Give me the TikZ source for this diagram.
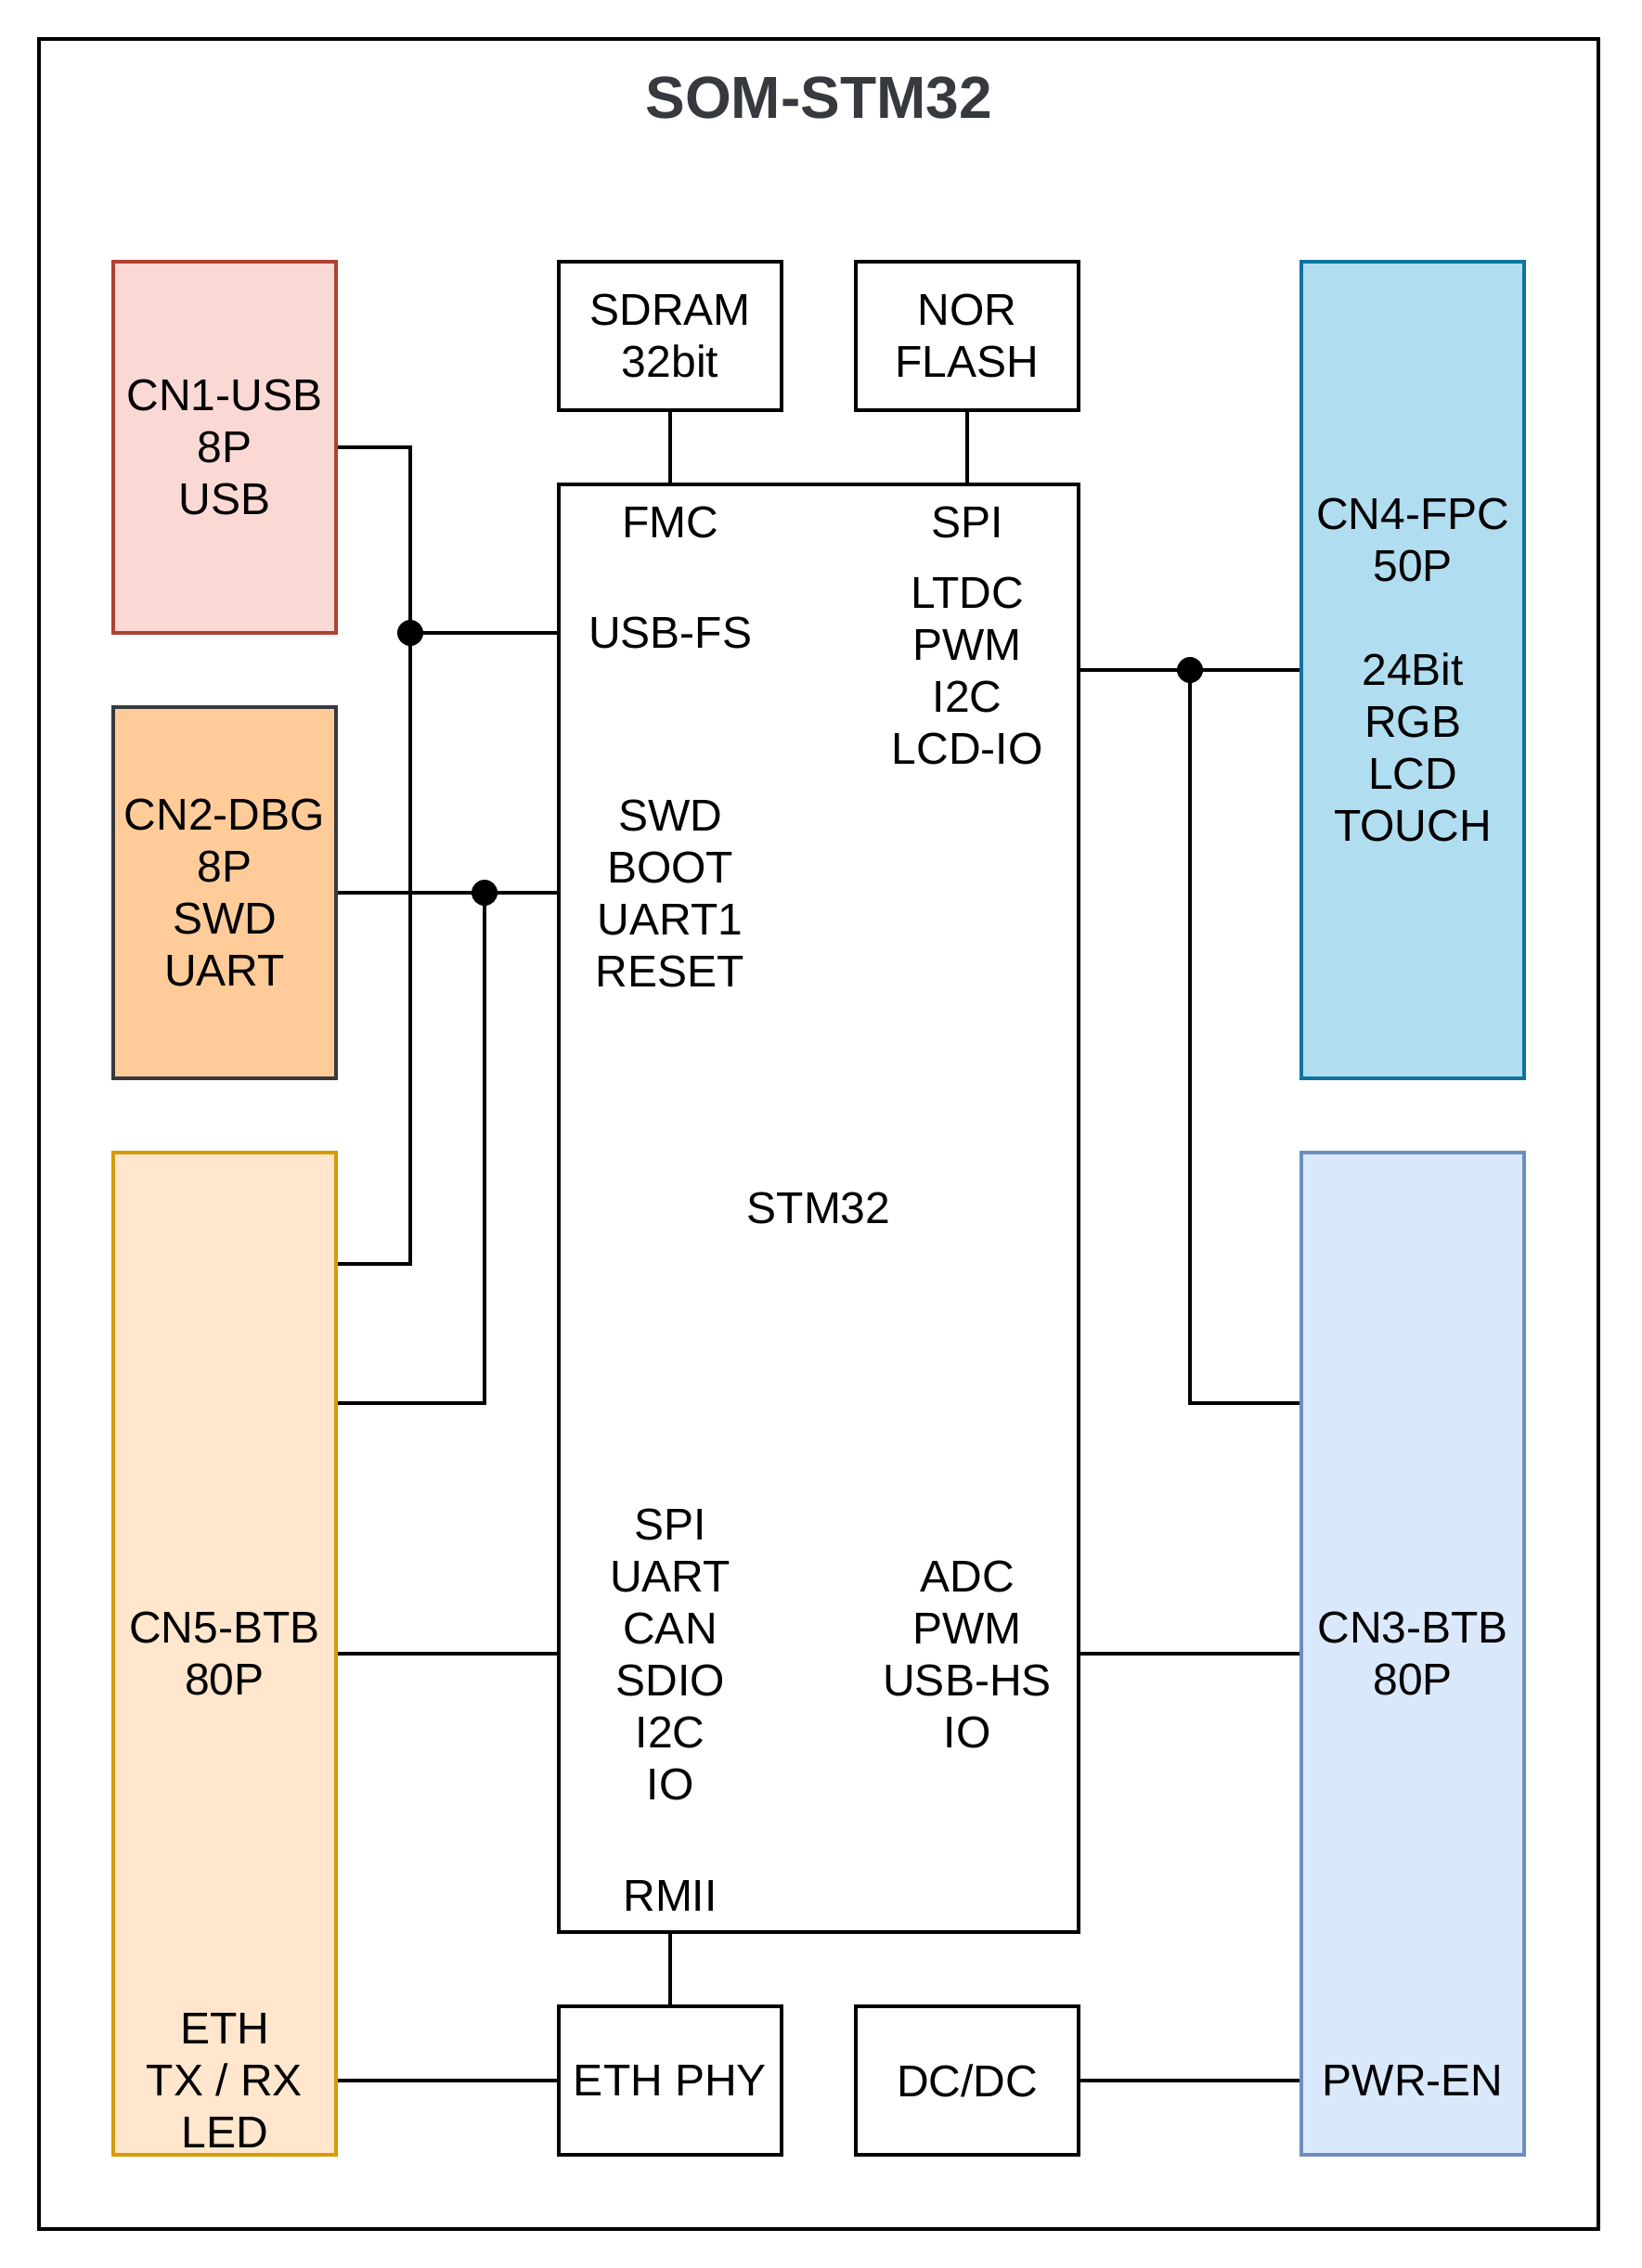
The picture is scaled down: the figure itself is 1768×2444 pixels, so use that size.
\documentclass[tikz,border=0pt]{standalone}
\usepackage{fontspec}
\setmainfont{Liberation Sans}
\usetikzlibrary{calc}
\definecolor{usbfill}{HTML}{FAD9D5}
\definecolor{usbline}{HTML}{AE4132}
\definecolor{dbgfill}{HTML}{FFCC99}
\definecolor{dbgline}{HTML}{36393D}
\definecolor{btbfill}{HTML}{FFE6CC}
\definecolor{btbline}{HTML}{D79B00}
\definecolor{fpcfill}{HTML}{B1DDF0}
\definecolor{fpcline}{HTML}{10739E}
\definecolor{bluefill}{HTML}{DAE8FC}
\definecolor{blueline}{HTML}{6C8EBF}
\definecolor{titlegray}{HTML}{36393D}
\newcommand{\blkfont}{\fontsize{24pt}{28pt}\selectfont}
\begin{document}
\begin{tikzpicture}[x=0.5pt,y=-0.5pt,line width=1.6pt,
  blk/.style={draw,line width=1.6pt,inner sep=0pt,align=center,font=\blkfont,
    minimum width=120pt,minimum height=80pt},
  lbl/.style={inner sep=0pt,align=center,font=\blkfont}]
\useasboundingbox (0,0) rectangle (1768,2444);
\draw[line width=2pt] (42,42) rectangle (1722,2402);
\node[font=\fontsize{32pt}{38pt}\selectfont\bfseries,text=titlegray,inner sep=0pt] (title) at (882,106) {SOM-STM32};
% connectors on the left
\node[blk,fill=usbfill,draw=usbline,minimum height=200pt] (cn1) at (242,482) {CN1-USB\\8P\\USB};
\node[blk,fill=dbgfill,draw=dbgline,minimum height=200pt] (cn2) at (242,962) {CN2-DBG\\8P\\SWD\\UART};
\node[blk,fill=btbfill,draw=btbline,minimum height=540pt] (cn5) at (242,1782) {CN5-BTB\\80P};
\node[lbl] (eth) at (242,2242) {ETH\\TX / RX\\LED};
% memories
\node[blk] (sdram) at (722,362) {SDRAM\\32bit};
\node[blk] (nor) at (1042,362) {NOR\\FLASH};
% mcu
\node[blk,minimum width=280pt,minimum height=780pt] (stm) at (882,1302) {STM32};
\node[lbl] (fmc) at (722,563) {FMC};
\node[lbl] (spi) at (1042,563) {SPI};
\node[lbl] (usbfs) at (722,682) {USB-FS};
\node[lbl] (ltdc) at (1042,723) {LTDC\\PWM\\I2C\\LCD-IO};
\node[lbl] (swd) at (722,963) {SWD\\BOOT\\UART1\\RESET};
\node[lbl] (perl) at (722,1783) {SPI\\UART\\CAN\\SDIO\\I2C\\IO};
\node[lbl] (perr) at (1042,1783) {ADC\\PWM\\USB-HS\\IO};
\node[lbl] (rmii) at (722,2043) {RMII};
% bottom row
\node[blk] (ethphy) at (722,2242) {ETH PHY};
\node[blk] (dcdc) at (1042,2242) {DC/DC};
% connectors on the right
\node[blk,fill=fpcfill,draw=fpcline,minimum height=440pt] (cn4) at (1522,722) {CN4-FPC\\50P\\\mbox{}\\24Bit\\RGB\\LCD\\TOUCH};
\node[blk,fill=bluefill,draw=blueline,minimum height=540pt] (cn3) at (1522,1782) {CN3-BTB\\80P};
\node[lbl] (pwren) at (1522,2242) {PWR-EN};
% wires
\coordinate (j1) at (442,682);
\coordinate (c1) at (442,1362);
\coordinate (j2) at (522,962);
\coordinate (c2) at (522,1512);
\coordinate (j3) at (1282,722);
\coordinate (c3) at (1282,1512);
\draw (sdram.south) -- (sdram.south |- stm.north);
\draw (nor.south) -- (nor.south |- stm.north);
\draw (cn1.east) -| (c1) -- (c1 -| cn5.east);
\draw (j1) -- (j1 -| stm.west);
\draw (cn2.east) -- (cn2.east -| stm.west);
\draw (j2) -- (c2) -- (c2 -| cn5.east);
\draw (cn4.west) -- (cn4.west -| stm.east);
\draw (j3) -- (c3) -- (c3 -| cn3.west);
\draw (cn5.east) -- (cn5.east -| stm.west);
\draw (cn3.west) -- (cn3.west -| stm.east);
\draw (ethphy.north) -- (ethphy.north |- stm.south);
\draw (ethphy.west) -- (ethphy.west -| cn5.east);
\draw (dcdc.east) -- (dcdc.east -| cn3.west);
\fill (j1) circle [radius=7pt];
\fill (j2) circle [radius=7pt];
\fill (j3) circle [radius=7pt];
\end{tikzpicture}
\end{document}
